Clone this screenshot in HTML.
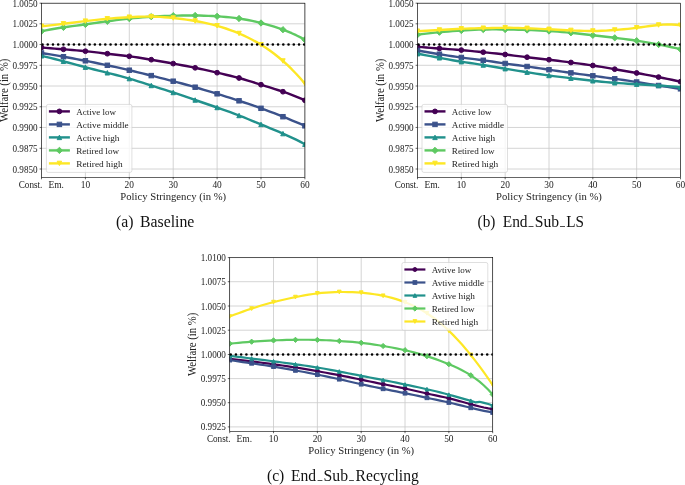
<!DOCTYPE html>
<html lang="en">
<head>
<meta charset="utf-8">
<title>Welfare vs. Policy Stringency</title>
<style>
html,body{margin:0;padding:0;background:#fff;}
body{width:685px;height:485px;overflow:hidden;font-family:"Liberation Serif",serif;}
svg{display:block;will-change:transform;}
text{font-family:"Liberation Serif",serif;}
</style>
</head>
<body>
<svg width="685" height="485" viewBox="0 0 685 485" font-family="Liberation Serif, serif" fill="#222">
<rect width="685" height="485" fill="#fff"/>
<g id="chart-a">
<path d="M41.5 3.2V177.4M85.4 3.2V177.4M129.3 3.2V177.4M173.2 3.2V177.4M217.1 3.2V177.4M261 3.2V177.4M304.9 3.2V177.4M41.5 3.2H304.9M41.5 23.8H304.9M41.5 44.5H304.9M41.5 65.3H304.9M41.5 86H304.9M41.5 106.75H304.9M41.5 127.45H304.9M41.5 148.3H304.9M41.5 169H304.9" stroke="#c9c9c9" stroke-width="0.8" fill="none"/>
<clipPath id="clip-a"><rect x="41.5" y="3.2" width="263.4" height="174.2"/></clipPath>
<g clip-path="url(#clip-a)">
<path d="M41.5 47.5L45.89 47.89L50.28 48.26L54.67 48.62L59.06 48.96L63.45 49.3L67.84 49.64L72.23 50L76.62 50.37L81.01 50.77L85.4 51.2L89.79 51.67L94.18 52.16L98.57 52.67L102.96 53.19L107.35 53.7L111.74 54.2L116.13 54.7L120.52 55.21L124.91 55.74L129.3 56.3L133.69 56.91L138.08 57.56L142.47 58.25L146.86 58.96L151.25 59.7L155.64 60.46L160.03 61.23L164.42 62.01L168.81 62.8L173.2 63.6L177.59 64.4L181.98 65.21L186.37 66.05L190.76 66.91L195.15 67.8L199.54 68.74L203.93 69.7L208.32 70.69L212.71 71.7L217.1 72.7L221.49 73.7L225.88 74.71L230.27 75.75L234.66 76.84L239.05 78L243.44 79.25L247.83 80.56L252.22 81.93L256.61 83.31L261 84.7L265.39 86.07L269.78 87.44L274.17 88.83L278.56 90.24L282.95 91.7L287.34 93.22L291.73 94.83L296.12 96.53L300.51 98.35L304.9 100.3" stroke="#440154" stroke-width="2.4" fill="none" stroke-linejoin="round" stroke-linecap="butt"/>
<circle cx="41.5" cy="47.5" r="2.4" fill="#440154" stroke="#440154" stroke-width="1.0"/>
<circle cx="63.45" cy="49.3" r="2.4" fill="#440154" stroke="#440154" stroke-width="1.0"/>
<circle cx="85.4" cy="51.2" r="2.4" fill="#440154" stroke="#440154" stroke-width="1.0"/>
<circle cx="107.35" cy="53.7" r="2.4" fill="#440154" stroke="#440154" stroke-width="1.0"/>
<circle cx="129.3" cy="56.3" r="2.4" fill="#440154" stroke="#440154" stroke-width="1.0"/>
<circle cx="151.25" cy="59.7" r="2.4" fill="#440154" stroke="#440154" stroke-width="1.0"/>
<circle cx="173.2" cy="63.6" r="2.4" fill="#440154" stroke="#440154" stroke-width="1.0"/>
<circle cx="195.15" cy="67.8" r="2.4" fill="#440154" stroke="#440154" stroke-width="1.0"/>
<circle cx="217.1" cy="72.7" r="2.4" fill="#440154" stroke="#440154" stroke-width="1.0"/>
<circle cx="239.05" cy="78" r="2.4" fill="#440154" stroke="#440154" stroke-width="1.0"/>
<circle cx="261" cy="84.7" r="2.4" fill="#440154" stroke="#440154" stroke-width="1.0"/>
<circle cx="282.95" cy="91.7" r="2.4" fill="#440154" stroke="#440154" stroke-width="1.0"/>
<circle cx="304.9" cy="100.3" r="2.4" fill="#440154" stroke="#440154" stroke-width="1.0"/>
<path d="M41.5 53L45.89 53.71L50.28 54.43L54.67 55.17L59.06 55.93L63.45 56.7L67.84 57.49L72.23 58.29L76.62 59.11L81.01 59.95L85.4 60.8L89.79 61.67L94.18 62.55L98.57 63.46L102.96 64.37L107.35 65.3L111.74 66.24L116.13 67.2L120.52 68.18L124.91 69.18L129.3 70.2L133.69 71.25L138.08 72.32L142.47 73.4L146.86 74.5L151.25 75.6L155.64 76.71L160.03 77.81L164.42 78.93L168.81 80.06L173.2 81.2L177.59 82.36L181.98 83.53L186.37 84.73L190.76 85.95L195.15 87.2L199.54 88.48L203.93 89.78L208.32 91.1L212.71 92.44L217.1 93.8L221.49 95.17L225.88 96.56L230.27 97.96L234.66 99.37L239.05 100.8L243.44 102.25L247.83 103.71L252.22 105.21L256.61 106.74L261 108.3L265.39 109.91L269.78 111.55L274.17 113.24L278.56 114.95L282.95 116.7L287.34 118.48L291.73 120.28L296.12 122.1L300.51 123.94L304.9 125.8" stroke="#3b528b" stroke-width="2.4" fill="none" stroke-linejoin="round" stroke-linecap="butt"/>
<rect x="39.27" y="50.77" width="4.45" height="4.45" fill="#3b528b" stroke="#3b528b" stroke-width="1.0" stroke-linejoin="miter"/>
<rect x="61.23" y="54.48" width="4.45" height="4.45" fill="#3b528b" stroke="#3b528b" stroke-width="1.0" stroke-linejoin="miter"/>
<rect x="83.18" y="58.57" width="4.45" height="4.45" fill="#3b528b" stroke="#3b528b" stroke-width="1.0" stroke-linejoin="miter"/>
<rect x="105.12" y="63.07" width="4.45" height="4.45" fill="#3b528b" stroke="#3b528b" stroke-width="1.0" stroke-linejoin="miter"/>
<rect x="127.08" y="67.98" width="4.45" height="4.45" fill="#3b528b" stroke="#3b528b" stroke-width="1.0" stroke-linejoin="miter"/>
<rect x="149.03" y="73.38" width="4.45" height="4.45" fill="#3b528b" stroke="#3b528b" stroke-width="1.0" stroke-linejoin="miter"/>
<rect x="170.97" y="78.98" width="4.45" height="4.45" fill="#3b528b" stroke="#3b528b" stroke-width="1.0" stroke-linejoin="miter"/>
<rect x="192.93" y="84.98" width="4.45" height="4.45" fill="#3b528b" stroke="#3b528b" stroke-width="1.0" stroke-linejoin="miter"/>
<rect x="214.88" y="91.58" width="4.45" height="4.45" fill="#3b528b" stroke="#3b528b" stroke-width="1.0" stroke-linejoin="miter"/>
<rect x="236.82" y="98.58" width="4.45" height="4.45" fill="#3b528b" stroke="#3b528b" stroke-width="1.0" stroke-linejoin="miter"/>
<rect x="258.77" y="106.08" width="4.45" height="4.45" fill="#3b528b" stroke="#3b528b" stroke-width="1.0" stroke-linejoin="miter"/>
<rect x="280.72" y="114.48" width="4.45" height="4.45" fill="#3b528b" stroke="#3b528b" stroke-width="1.0" stroke-linejoin="miter"/>
<rect x="302.67" y="123.58" width="4.45" height="4.45" fill="#3b528b" stroke="#3b528b" stroke-width="1.0" stroke-linejoin="miter"/>
<path d="M41.5 55.8L45.89 56.82L50.28 57.89L54.67 59L59.06 60.14L63.45 61.3L67.84 62.48L72.23 63.67L76.62 64.85L81.01 66.03L85.4 67.2L89.79 68.35L94.18 69.48L98.57 70.59L102.96 71.7L107.35 72.8L111.74 73.9L116.13 75.02L120.52 76.17L124.91 77.35L129.3 78.6L133.69 79.91L138.08 81.28L142.47 82.67L146.86 84.09L151.25 85.5L155.64 86.89L160.03 88.28L164.42 89.67L168.81 91.07L173.2 92.5L177.59 93.97L181.98 95.46L186.37 96.97L190.76 98.49L195.15 100L199.54 101.5L203.93 102.99L208.32 104.49L212.71 105.99L217.1 107.5L221.49 109.03L225.88 110.6L230.27 112.19L234.66 113.82L239.05 115.5L243.44 117.23L247.83 118.99L252.22 120.78L256.61 122.59L261 124.4L265.39 126.21L269.78 128.02L274.17 129.84L278.56 131.7L282.95 133.6L287.34 135.56L291.73 137.58L296.12 139.69L300.51 141.89L304.9 144.2" stroke="#21918c" stroke-width="2.4" fill="none" stroke-linejoin="round" stroke-linecap="butt"/>
<path d="M41.5 53.57L43.73 58.02L39.27 58.02Z" fill="#21918c" stroke="#21918c" stroke-width="1.0"/>
<path d="M63.45 59.07L65.67 63.52L61.23 63.52Z" fill="#21918c" stroke="#21918c" stroke-width="1.0"/>
<path d="M85.4 64.98L87.62 69.42L83.18 69.42Z" fill="#21918c" stroke="#21918c" stroke-width="1.0"/>
<path d="M107.35 70.58L109.57 75.02L105.12 75.02Z" fill="#21918c" stroke="#21918c" stroke-width="1.0"/>
<path d="M129.3 76.38L131.53 80.82L127.08 80.82Z" fill="#21918c" stroke="#21918c" stroke-width="1.0"/>
<path d="M151.25 83.28L153.47 87.72L149.03 87.72Z" fill="#21918c" stroke="#21918c" stroke-width="1.0"/>
<path d="M173.2 90.28L175.42 94.72L170.97 94.72Z" fill="#21918c" stroke="#21918c" stroke-width="1.0"/>
<path d="M195.15 97.78L197.38 102.22L192.93 102.22Z" fill="#21918c" stroke="#21918c" stroke-width="1.0"/>
<path d="M217.1 105.28L219.32 109.72L214.88 109.72Z" fill="#21918c" stroke="#21918c" stroke-width="1.0"/>
<path d="M239.05 113.28L241.27 117.72L236.82 117.72Z" fill="#21918c" stroke="#21918c" stroke-width="1.0"/>
<path d="M261 122.18L263.23 126.62L258.77 126.62Z" fill="#21918c" stroke="#21918c" stroke-width="1.0"/>
<path d="M282.95 131.38L285.17 135.82L280.72 135.82Z" fill="#21918c" stroke="#21918c" stroke-width="1.0"/>
<path d="M304.9 141.97L307.12 146.42L302.67 146.42Z" fill="#21918c" stroke="#21918c" stroke-width="1.0"/>
<path d="M41.5 31.2L45.89 30.31L50.28 29.5L54.67 28.75L59.06 28.06L63.45 27.4L67.84 26.78L72.23 26.18L76.62 25.59L81.01 25L85.4 24.4L89.79 23.79L94.18 23.16L98.57 22.53L102.96 21.91L107.35 21.3L111.74 20.71L116.13 20.14L120.52 19.6L124.91 19.08L129.3 18.6L133.69 18.15L138.08 17.73L142.47 17.35L146.86 17.01L151.25 16.7L155.64 16.43L160.03 16.2L164.42 16L168.81 15.84L173.2 15.7L177.59 15.59L181.98 15.52L186.37 15.47L190.76 15.47L195.15 15.5L199.54 15.57L203.93 15.69L208.32 15.85L212.71 16.05L217.1 16.3L221.49 16.6L225.88 16.95L230.27 17.38L234.66 17.89L239.05 18.5L243.44 19.21L247.83 20.03L252.22 20.93L256.61 21.93L261 23L265.39 24.15L269.78 25.38L274.17 26.71L278.56 28.14L282.95 29.7L287.34 31.39L291.73 33.22L296.12 35.21L300.51 37.36L304.9 39.7" stroke="#5ec962" stroke-width="2.4" fill="none" stroke-linejoin="round" stroke-linecap="butt"/>
<path d="M41.5 28.05L44.65 31.2L41.5 34.35L38.35 31.2Z" fill="#5ec962" stroke="#5ec962" stroke-width="1.0"/>
<path d="M63.45 24.25L66.6 27.4L63.45 30.55L60.3 27.4Z" fill="#5ec962" stroke="#5ec962" stroke-width="1.0"/>
<path d="M85.4 21.25L88.55 24.4L85.4 27.55L82.25 24.4Z" fill="#5ec962" stroke="#5ec962" stroke-width="1.0"/>
<path d="M107.35 18.15L110.5 21.3L107.35 24.45L104.2 21.3Z" fill="#5ec962" stroke="#5ec962" stroke-width="1.0"/>
<path d="M129.3 15.45L132.45 18.6L129.3 21.75L126.15 18.6Z" fill="#5ec962" stroke="#5ec962" stroke-width="1.0"/>
<path d="M151.25 13.55L154.4 16.7L151.25 19.85L148.1 16.7Z" fill="#5ec962" stroke="#5ec962" stroke-width="1.0"/>
<path d="M173.2 12.55L176.35 15.7L173.2 18.85L170.05 15.7Z" fill="#5ec962" stroke="#5ec962" stroke-width="1.0"/>
<path d="M195.15 12.35L198.3 15.5L195.15 18.65L192 15.5Z" fill="#5ec962" stroke="#5ec962" stroke-width="1.0"/>
<path d="M217.1 13.15L220.25 16.3L217.1 19.45L213.95 16.3Z" fill="#5ec962" stroke="#5ec962" stroke-width="1.0"/>
<path d="M239.05 15.35L242.2 18.5L239.05 21.65L235.9 18.5Z" fill="#5ec962" stroke="#5ec962" stroke-width="1.0"/>
<path d="M261 19.85L264.15 23L261 26.15L257.85 23Z" fill="#5ec962" stroke="#5ec962" stroke-width="1.0"/>
<path d="M282.95 26.55L286.1 29.7L282.95 32.85L279.8 29.7Z" fill="#5ec962" stroke="#5ec962" stroke-width="1.0"/>
<path d="M304.9 36.55L308.05 39.7L304.9 42.85L301.75 39.7Z" fill="#5ec962" stroke="#5ec962" stroke-width="1.0"/>
<path d="M41.5 26.3L45.89 25.85L50.28 25.37L54.67 24.86L59.06 24.34L63.45 23.8L67.84 23.25L72.23 22.71L76.62 22.16L81.01 21.62L85.4 21.1L89.79 20.59L94.18 20.11L98.57 19.65L102.96 19.21L107.35 18.8L111.74 18.42L116.13 18.07L120.52 17.75L124.91 17.46L129.3 17.2L133.69 16.97L138.08 16.78L142.47 16.64L146.86 16.58L151.25 16.6L155.64 16.72L160.03 16.92L164.42 17.21L168.81 17.57L173.2 18L177.59 18.48L181.98 19.02L186.37 19.62L190.76 20.28L195.15 21L199.54 21.78L203.93 22.64L208.32 23.59L212.71 24.64L217.1 25.8L221.49 27.09L225.88 28.5L230.27 30.04L234.66 31.71L239.05 33.5L243.44 35.42L247.83 37.48L252.22 39.71L256.61 42.11L261 44.7L265.39 47.5L269.78 50.53L274.17 53.78L278.56 57.27L282.95 61L287.34 64.98L291.73 69.23L296.12 73.74L300.51 78.53L304.9 83.6" stroke="#fde725" stroke-width="2.4" fill="none" stroke-linejoin="round" stroke-linecap="butt"/>
<path d="M41.5 28.53L43.73 24.07L39.27 24.07Z" fill="#fde725" stroke="#fde725" stroke-width="1.0"/>
<path d="M63.45 26.03L65.67 21.57L61.23 21.57Z" fill="#fde725" stroke="#fde725" stroke-width="1.0"/>
<path d="M85.4 23.33L87.62 18.88L83.18 18.88Z" fill="#fde725" stroke="#fde725" stroke-width="1.0"/>
<path d="M107.35 21.03L109.57 16.57L105.12 16.57Z" fill="#fde725" stroke="#fde725" stroke-width="1.0"/>
<path d="M129.3 19.43L131.53 14.97L127.08 14.97Z" fill="#fde725" stroke="#fde725" stroke-width="1.0"/>
<path d="M151.25 18.83L153.47 14.38L149.03 14.38Z" fill="#fde725" stroke="#fde725" stroke-width="1.0"/>
<path d="M173.2 20.23L175.42 15.78L170.97 15.78Z" fill="#fde725" stroke="#fde725" stroke-width="1.0"/>
<path d="M195.15 23.23L197.38 18.77L192.93 18.77Z" fill="#fde725" stroke="#fde725" stroke-width="1.0"/>
<path d="M217.1 28.03L219.32 23.57L214.88 23.57Z" fill="#fde725" stroke="#fde725" stroke-width="1.0"/>
<path d="M239.05 35.73L241.27 31.27L236.82 31.27Z" fill="#fde725" stroke="#fde725" stroke-width="1.0"/>
<path d="M261 46.93L263.23 42.48L258.77 42.48Z" fill="#fde725" stroke="#fde725" stroke-width="1.0"/>
<path d="M282.95 63.23L285.17 58.77L280.72 58.77Z" fill="#fde725" stroke="#fde725" stroke-width="1.0"/>
<path d="M304.9 85.82L307.12 81.38L302.67 81.38Z" fill="#fde725" stroke="#fde725" stroke-width="1.0"/>
<path d="M42.5 44.5H306.9" stroke="#000" stroke-width="2.6" stroke-linecap="round" stroke-dasharray="0.01 5.225" fill="none"/>
</g>
<path d="M41.5 177.4v1.9M85.4 177.4v1.9M129.3 177.4v1.9M173.2 177.4v1.9M217.1 177.4v1.9M261 177.4v1.9M304.9 177.4v1.9M41.5 3.2h-1.9M41.5 23.8h-1.9M41.5 44.5h-1.9M41.5 65.3h-1.9M41.5 86h-1.9M41.5 106.75h-1.9M41.5 127.45h-1.9M41.5 148.3h-1.9M41.5 169h-1.9" stroke="#000" stroke-width="0.6" fill="none"/>
<rect x="41.5" y="3.2" width="263.4" height="174.2" fill="none" stroke="#000" stroke-width="0.6"/>
<text x="37.7" y="6.7" text-anchor="end" font-size="9.5" textLength="25.2" lengthAdjust="spacingAndGlyphs">1.0050</text>
<text x="37.7" y="27.3" text-anchor="end" font-size="9.5" textLength="25.2" lengthAdjust="spacingAndGlyphs">1.0025</text>
<text x="37.7" y="48" text-anchor="end" font-size="9.5" textLength="25.2" lengthAdjust="spacingAndGlyphs">1.0000</text>
<text x="37.7" y="68.8" text-anchor="end" font-size="9.5" textLength="25.2" lengthAdjust="spacingAndGlyphs">0.9975</text>
<text x="37.7" y="89.5" text-anchor="end" font-size="9.5" textLength="25.2" lengthAdjust="spacingAndGlyphs">0.9950</text>
<text x="37.7" y="110.25" text-anchor="end" font-size="9.5" textLength="25.2" lengthAdjust="spacingAndGlyphs">0.9925</text>
<text x="37.7" y="130.95" text-anchor="end" font-size="9.5" textLength="25.2" lengthAdjust="spacingAndGlyphs">0.9900</text>
<text x="37.7" y="151.8" text-anchor="end" font-size="9.5" textLength="25.2" lengthAdjust="spacingAndGlyphs">0.9875</text>
<text x="37.7" y="172.5" text-anchor="end" font-size="9.5" textLength="25.2" lengthAdjust="spacingAndGlyphs">0.9850</text>
<text x="18.7" y="187.7" font-size="9.6" textLength="23.7" lengthAdjust="spacingAndGlyphs">Const.</text>
<text x="48.4" y="187.7" font-size="9.6" textLength="15.5" lengthAdjust="spacingAndGlyphs">Em.</text>
<text x="85.4" y="187.7" text-anchor="middle" font-size="9.4">10</text>
<text x="129.3" y="187.7" text-anchor="middle" font-size="9.4">20</text>
<text x="173.2" y="187.7" text-anchor="middle" font-size="9.4">30</text>
<text x="217.1" y="187.7" text-anchor="middle" font-size="9.4">40</text>
<text x="261" y="187.7" text-anchor="middle" font-size="9.4">50</text>
<text x="304.9" y="187.7" text-anchor="middle" font-size="9.4">60</text>
<text x="173.2" y="199.7" text-anchor="middle" font-size="11.1" textLength="105.8" lengthAdjust="spacingAndGlyphs">Policy Stringency (in %)</text>
<text transform="translate(8.2 90.3) rotate(-90)" text-anchor="middle" font-size="11.8" textLength="63.3" lengthAdjust="spacingAndGlyphs">Welfare (in %)</text>
<rect x="46.4" y="104.4" width="85.5" height="68" rx="1.8" ry="1.8" fill="#fff" fill-opacity="0.8" stroke="#ccc" stroke-opacity="0.8" stroke-width="0.8"/>
<path d="M48.9 111.4H69.9" stroke="#440154" stroke-width="2.4" fill="none"/>
<circle cx="59.4" cy="111.4" r="2.4" fill="#440154" stroke="#440154" stroke-width="1.0"/>
<text x="76.2" y="115" font-size="9.1" textLength="39.7" lengthAdjust="spacingAndGlyphs">Active low</text>
<path d="M48.9 124.4H69.9" stroke="#3b528b" stroke-width="2.4" fill="none"/>
<rect x="57.18" y="122.18" width="4.45" height="4.45" fill="#3b528b" stroke="#3b528b" stroke-width="1.0" stroke-linejoin="miter"/>
<text x="76.2" y="128" font-size="9.1" textLength="52.4" lengthAdjust="spacingAndGlyphs">Active middle</text>
<path d="M48.9 137.4H69.9" stroke="#21918c" stroke-width="2.4" fill="none"/>
<path d="M59.4 135.18L61.63 139.62L57.18 139.62Z" fill="#21918c" stroke="#21918c" stroke-width="1.0"/>
<text x="76.2" y="141" font-size="9.1" textLength="43.3" lengthAdjust="spacingAndGlyphs">Active high</text>
<path d="M48.9 150.4H69.9" stroke="#5ec962" stroke-width="2.4" fill="none"/>
<path d="M59.4 147.25L62.55 150.4L59.4 153.55L56.25 150.4Z" fill="#5ec962" stroke="#5ec962" stroke-width="1.0"/>
<text x="76.2" y="154" font-size="9.1" textLength="42.9" lengthAdjust="spacingAndGlyphs">Retired low</text>
<path d="M48.9 163.4H69.9" stroke="#fde725" stroke-width="2.4" fill="none"/>
<path d="M59.4 165.62L61.63 161.18L57.18 161.18Z" fill="#fde725" stroke="#fde725" stroke-width="1.0"/>
<text x="76.2" y="167" font-size="9.1" textLength="46.5" lengthAdjust="spacingAndGlyphs">Retired high</text>
<text x="116.1" y="226.7" font-size="16" fill="#111" textLength="17.5" lengthAdjust="spacingAndGlyphs">(a)</text>
<text x="140" y="226.7" font-size="16" fill="#111" textLength="54.3" lengthAdjust="spacingAndGlyphs">Baseline</text>
</g>
<g id="chart-b">
<path d="M417.5 3.2V177.4M461.33 3.2V177.4M505.17 3.2V177.4M549 3.2V177.4M592.83 3.2V177.4M636.67 3.2V177.4M680.5 3.2V177.4M417.5 3.2H680.5M417.5 23.8H680.5M417.5 44.5H680.5M417.5 65.3H680.5M417.5 86H680.5M417.5 106.75H680.5M417.5 127.45H680.5M417.5 148.3H680.5M417.5 169H680.5" stroke="#c9c9c9" stroke-width="0.8" fill="none"/>
<clipPath id="clip-b"><rect x="417.5" y="3.2" width="263" height="174.2"/></clipPath>
<g clip-path="url(#clip-b)">
<path d="M417.5 46.7L421.88 47.13L426.27 47.51L430.65 47.86L435.03 48.19L439.42 48.5L443.8 48.8L448.18 49.11L452.57 49.42L456.95 49.75L461.33 50.1L465.72 50.48L470.1 50.89L474.48 51.32L478.87 51.76L483.25 52.2L487.63 52.64L492.02 53.08L496.4 53.54L500.78 54.01L505.17 54.5L509.55 55.02L513.93 55.57L518.32 56.12L522.7 56.67L527.08 57.2L531.47 57.71L535.85 58.21L540.23 58.7L544.62 59.19L549 59.7L553.38 60.23L557.77 60.79L562.15 61.35L566.53 61.93L570.92 62.5L575.3 63.07L579.68 63.65L584.07 64.24L588.45 64.85L592.83 65.5L597.22 66.19L601.6 66.92L605.98 67.67L610.37 68.43L614.75 69.2L619.13 69.96L623.52 70.71L627.9 71.47L632.28 72.23L636.67 73L641.05 73.79L645.43 74.59L649.82 75.41L654.2 76.24L658.58 77.1L662.97 77.98L667.35 78.87L671.73 79.79L676.12 80.73L680.5 81.7" stroke="#440154" stroke-width="2.4" fill="none" stroke-linejoin="round" stroke-linecap="butt"/>
<circle cx="417.5" cy="46.7" r="2.4" fill="#440154" stroke="#440154" stroke-width="1.0"/>
<circle cx="439.42" cy="48.5" r="2.4" fill="#440154" stroke="#440154" stroke-width="1.0"/>
<circle cx="461.33" cy="50.1" r="2.4" fill="#440154" stroke="#440154" stroke-width="1.0"/>
<circle cx="483.25" cy="52.2" r="2.4" fill="#440154" stroke="#440154" stroke-width="1.0"/>
<circle cx="505.17" cy="54.5" r="2.4" fill="#440154" stroke="#440154" stroke-width="1.0"/>
<circle cx="527.08" cy="57.2" r="2.4" fill="#440154" stroke="#440154" stroke-width="1.0"/>
<circle cx="549" cy="59.7" r="2.4" fill="#440154" stroke="#440154" stroke-width="1.0"/>
<circle cx="570.92" cy="62.5" r="2.4" fill="#440154" stroke="#440154" stroke-width="1.0"/>
<circle cx="592.83" cy="65.5" r="2.4" fill="#440154" stroke="#440154" stroke-width="1.0"/>
<circle cx="614.75" cy="69.2" r="2.4" fill="#440154" stroke="#440154" stroke-width="1.0"/>
<circle cx="636.67" cy="73" r="2.4" fill="#440154" stroke="#440154" stroke-width="1.0"/>
<circle cx="658.58" cy="77.1" r="2.4" fill="#440154" stroke="#440154" stroke-width="1.0"/>
<circle cx="680.5" cy="81.7" r="2.4" fill="#440154" stroke="#440154" stroke-width="1.0"/>
<path d="M417.5 50.5L421.88 51.25L426.27 52L430.65 52.74L435.03 53.48L439.42 54.2L443.8 54.91L448.18 55.6L452.57 56.26L456.95 56.9L461.33 57.5L465.72 58.07L470.1 58.62L474.48 59.17L478.87 59.72L483.25 60.3L487.63 60.91L492.02 61.55L496.4 62.21L500.78 62.86L505.17 63.5L509.55 64.12L513.93 64.72L518.32 65.31L522.7 65.9L527.08 66.5L531.47 67.12L535.85 67.75L540.23 68.39L544.62 69.04L549 69.7L553.38 70.36L557.77 71.01L562.15 71.65L566.53 72.28L570.92 72.9L575.3 73.5L579.68 74.08L584.07 74.65L588.45 75.22L592.83 75.8L597.22 76.38L601.6 76.98L605.98 77.58L610.37 78.19L614.75 78.8L619.13 79.42L623.52 80.05L627.9 80.68L632.28 81.33L636.67 82L641.05 82.68L645.43 83.38L649.82 84.09L654.2 84.79L658.58 85.5L662.97 86.2L667.35 86.88L671.73 87.55L676.12 88.19L680.5 88.8" stroke="#3b528b" stroke-width="2.4" fill="none" stroke-linejoin="round" stroke-linecap="butt"/>
<rect x="415.27" y="48.27" width="4.45" height="4.45" fill="#3b528b" stroke="#3b528b" stroke-width="1.0" stroke-linejoin="miter"/>
<rect x="437.19" y="51.98" width="4.45" height="4.45" fill="#3b528b" stroke="#3b528b" stroke-width="1.0" stroke-linejoin="miter"/>
<rect x="459.11" y="55.27" width="4.45" height="4.45" fill="#3b528b" stroke="#3b528b" stroke-width="1.0" stroke-linejoin="miter"/>
<rect x="481.02" y="58.07" width="4.45" height="4.45" fill="#3b528b" stroke="#3b528b" stroke-width="1.0" stroke-linejoin="miter"/>
<rect x="502.94" y="61.27" width="4.45" height="4.45" fill="#3b528b" stroke="#3b528b" stroke-width="1.0" stroke-linejoin="miter"/>
<rect x="524.86" y="64.28" width="4.45" height="4.45" fill="#3b528b" stroke="#3b528b" stroke-width="1.0" stroke-linejoin="miter"/>
<rect x="546.77" y="67.48" width="4.45" height="4.45" fill="#3b528b" stroke="#3b528b" stroke-width="1.0" stroke-linejoin="miter"/>
<rect x="568.69" y="70.68" width="4.45" height="4.45" fill="#3b528b" stroke="#3b528b" stroke-width="1.0" stroke-linejoin="miter"/>
<rect x="590.61" y="73.58" width="4.45" height="4.45" fill="#3b528b" stroke="#3b528b" stroke-width="1.0" stroke-linejoin="miter"/>
<rect x="612.52" y="76.58" width="4.45" height="4.45" fill="#3b528b" stroke="#3b528b" stroke-width="1.0" stroke-linejoin="miter"/>
<rect x="634.44" y="79.78" width="4.45" height="4.45" fill="#3b528b" stroke="#3b528b" stroke-width="1.0" stroke-linejoin="miter"/>
<rect x="656.36" y="83.28" width="4.45" height="4.45" fill="#3b528b" stroke="#3b528b" stroke-width="1.0" stroke-linejoin="miter"/>
<rect x="678.27" y="86.58" width="4.45" height="4.45" fill="#3b528b" stroke="#3b528b" stroke-width="1.0" stroke-linejoin="miter"/>
<path d="M417.5 53.7L421.88 54.49L426.27 55.31L430.65 56.13L435.03 56.97L439.42 57.8L443.8 58.62L448.18 59.43L452.57 60.22L456.95 60.98L461.33 61.7L465.72 62.38L470.1 63.03L474.48 63.68L478.87 64.33L483.25 65L487.63 65.71L492.02 66.45L496.4 67.2L500.78 67.96L505.17 68.7L509.55 69.42L513.93 70.13L518.32 70.83L522.7 71.51L527.08 72.2L531.47 72.89L535.85 73.57L540.23 74.24L544.62 74.88L549 75.5L553.38 76.08L557.77 76.63L562.15 77.16L566.53 77.68L570.92 78.2L575.3 78.73L579.68 79.27L584.07 79.79L588.45 80.31L592.83 80.8L597.22 81.26L601.6 81.69L605.98 82.09L610.37 82.46L614.75 82.8L619.13 83.12L623.52 83.41L627.9 83.68L632.28 83.95L636.67 84.2L641.05 84.45L645.43 84.7L649.82 84.96L654.2 85.22L658.58 85.5L662.97 85.79L667.35 86.11L671.73 86.44L676.12 86.8L680.5 87.2" stroke="#21918c" stroke-width="2.4" fill="none" stroke-linejoin="round" stroke-linecap="butt"/>
<path d="M417.5 51.48L419.73 55.93L415.27 55.93Z" fill="#21918c" stroke="#21918c" stroke-width="1.0"/>
<path d="M439.42 55.57L441.64 60.02L437.19 60.02Z" fill="#21918c" stroke="#21918c" stroke-width="1.0"/>
<path d="M461.33 59.48L463.56 63.93L459.11 63.93Z" fill="#21918c" stroke="#21918c" stroke-width="1.0"/>
<path d="M483.25 62.77L485.48 67.22L481.02 67.22Z" fill="#21918c" stroke="#21918c" stroke-width="1.0"/>
<path d="M505.17 66.48L507.39 70.92L502.94 70.92Z" fill="#21918c" stroke="#21918c" stroke-width="1.0"/>
<path d="M527.08 69.98L529.31 74.42L524.86 74.42Z" fill="#21918c" stroke="#21918c" stroke-width="1.0"/>
<path d="M549 73.28L551.23 77.72L546.77 77.72Z" fill="#21918c" stroke="#21918c" stroke-width="1.0"/>
<path d="M570.92 75.98L573.14 80.42L568.69 80.42Z" fill="#21918c" stroke="#21918c" stroke-width="1.0"/>
<path d="M592.83 78.58L595.06 83.02L590.61 83.02Z" fill="#21918c" stroke="#21918c" stroke-width="1.0"/>
<path d="M614.75 80.58L616.98 85.02L612.52 85.02Z" fill="#21918c" stroke="#21918c" stroke-width="1.0"/>
<path d="M636.67 81.98L638.89 86.42L634.44 86.42Z" fill="#21918c" stroke="#21918c" stroke-width="1.0"/>
<path d="M658.58 83.28L660.81 87.72L656.36 87.72Z" fill="#21918c" stroke="#21918c" stroke-width="1.0"/>
<path d="M680.5 84.98L682.73 89.42L678.27 89.42Z" fill="#21918c" stroke="#21918c" stroke-width="1.0"/>
<path d="M417.5 34.7L421.88 34.12L426.27 33.59L430.65 33.09L435.03 32.63L439.42 32.2L443.8 31.8L448.18 31.44L452.57 31.1L456.95 30.79L461.33 30.5L465.72 30.23L470.1 29.99L474.48 29.79L478.87 29.62L483.25 29.5L487.63 29.43L492.02 29.4L496.4 29.41L500.78 29.44L505.17 29.5L509.55 29.57L513.93 29.65L518.32 29.75L522.7 29.87L527.08 30L531.47 30.15L535.85 30.32L540.23 30.52L544.62 30.74L549 31L553.38 31.29L557.77 31.61L562.15 31.97L566.53 32.37L570.92 32.8L575.3 33.27L579.68 33.76L584.07 34.27L588.45 34.79L592.83 35.3L597.22 35.8L601.6 36.3L605.98 36.79L610.37 37.29L614.75 37.8L619.13 38.33L623.52 38.88L627.9 39.45L632.28 40.06L636.67 40.7L641.05 41.38L645.43 42.1L649.82 42.87L654.2 43.66L658.58 44.5L662.97 45.37L667.35 46.28L671.73 47.22L676.12 48.19L680.5 49.2" stroke="#5ec962" stroke-width="2.4" fill="none" stroke-linejoin="round" stroke-linecap="butt"/>
<path d="M417.5 31.55L420.65 34.7L417.5 37.85L414.35 34.7Z" fill="#5ec962" stroke="#5ec962" stroke-width="1.0"/>
<path d="M439.42 29.05L442.56 32.2L439.42 35.35L436.27 32.2Z" fill="#5ec962" stroke="#5ec962" stroke-width="1.0"/>
<path d="M461.33 27.35L464.48 30.5L461.33 33.65L458.19 30.5Z" fill="#5ec962" stroke="#5ec962" stroke-width="1.0"/>
<path d="M483.25 26.35L486.4 29.5L483.25 32.65L480.1 29.5Z" fill="#5ec962" stroke="#5ec962" stroke-width="1.0"/>
<path d="M505.17 26.35L508.31 29.5L505.17 32.65L502.02 29.5Z" fill="#5ec962" stroke="#5ec962" stroke-width="1.0"/>
<path d="M527.08 26.85L530.23 30L527.08 33.15L523.94 30Z" fill="#5ec962" stroke="#5ec962" stroke-width="1.0"/>
<path d="M549 27.85L552.15 31L549 34.15L545.85 31Z" fill="#5ec962" stroke="#5ec962" stroke-width="1.0"/>
<path d="M570.92 29.65L574.06 32.8L570.92 35.95L567.77 32.8Z" fill="#5ec962" stroke="#5ec962" stroke-width="1.0"/>
<path d="M592.83 32.15L595.98 35.3L592.83 38.45L589.69 35.3Z" fill="#5ec962" stroke="#5ec962" stroke-width="1.0"/>
<path d="M614.75 34.65L617.9 37.8L614.75 40.95L611.6 37.8Z" fill="#5ec962" stroke="#5ec962" stroke-width="1.0"/>
<path d="M636.67 37.55L639.81 40.7L636.67 43.85L633.52 40.7Z" fill="#5ec962" stroke="#5ec962" stroke-width="1.0"/>
<path d="M658.58 41.35L661.73 44.5L658.58 47.65L655.44 44.5Z" fill="#5ec962" stroke="#5ec962" stroke-width="1.0"/>
<path d="M680.5 46.05L683.65 49.2L680.5 52.35L677.35 49.2Z" fill="#5ec962" stroke="#5ec962" stroke-width="1.0"/>
<path d="M417.5 31.2L421.88 31.01L426.27 30.78L430.65 30.53L435.03 30.27L439.42 30L443.8 29.73L448.18 29.47L452.57 29.22L456.95 28.99L461.33 28.8L465.72 28.64L470.1 28.51L474.48 28.4L478.87 28.3L483.25 28.2L487.63 28.09L492.02 27.98L496.4 27.89L500.78 27.83L505.17 27.8L509.55 27.82L513.93 27.89L518.32 28L522.7 28.14L527.08 28.3L531.47 28.48L535.85 28.67L540.23 28.87L544.62 29.08L549 29.3L553.38 29.52L557.77 29.75L562.15 29.97L566.53 30.19L570.92 30.4L575.3 30.6L579.68 30.77L584.07 30.91L588.45 30.99L592.83 31L597.22 30.93L601.6 30.79L605.98 30.58L610.37 30.31L614.75 30L619.13 29.65L623.52 29.26L627.9 28.82L632.28 28.34L636.67 27.8L641.05 27.21L645.43 26.6L649.82 26L654.2 25.46L658.58 25L662.97 24.67L667.35 24.49L671.73 24.52L676.12 24.77L680.5 25.3" stroke="#fde725" stroke-width="2.4" fill="none" stroke-linejoin="round" stroke-linecap="butt"/>
<path d="M417.5 33.42L419.73 28.97L415.27 28.97Z" fill="#fde725" stroke="#fde725" stroke-width="1.0"/>
<path d="M439.42 32.23L441.64 27.77L437.19 27.77Z" fill="#fde725" stroke="#fde725" stroke-width="1.0"/>
<path d="M461.33 31.03L463.56 26.57L459.11 26.57Z" fill="#fde725" stroke="#fde725" stroke-width="1.0"/>
<path d="M483.25 30.43L485.48 25.97L481.02 25.97Z" fill="#fde725" stroke="#fde725" stroke-width="1.0"/>
<path d="M505.17 30.03L507.39 25.57L502.94 25.57Z" fill="#fde725" stroke="#fde725" stroke-width="1.0"/>
<path d="M527.08 30.53L529.31 26.07L524.86 26.07Z" fill="#fde725" stroke="#fde725" stroke-width="1.0"/>
<path d="M549 31.53L551.23 27.07L546.77 27.07Z" fill="#fde725" stroke="#fde725" stroke-width="1.0"/>
<path d="M570.92 32.62L573.14 28.17L568.69 28.17Z" fill="#fde725" stroke="#fde725" stroke-width="1.0"/>
<path d="M592.83 33.23L595.06 28.77L590.61 28.77Z" fill="#fde725" stroke="#fde725" stroke-width="1.0"/>
<path d="M614.75 32.23L616.98 27.77L612.52 27.77Z" fill="#fde725" stroke="#fde725" stroke-width="1.0"/>
<path d="M636.67 30.03L638.89 25.57L634.44 25.57Z" fill="#fde725" stroke="#fde725" stroke-width="1.0"/>
<path d="M658.58 27.23L660.81 22.77L656.36 22.77Z" fill="#fde725" stroke="#fde725" stroke-width="1.0"/>
<path d="M680.5 27.53L682.73 23.07L678.27 23.07Z" fill="#fde725" stroke="#fde725" stroke-width="1.0"/>
<path d="M418.5 44.5H682.5" stroke="#000" stroke-width="2.6" stroke-linecap="round" stroke-dasharray="0.01 5.225" fill="none"/>
</g>
<path d="M417.5 177.4v1.9M461.33 177.4v1.9M505.17 177.4v1.9M549 177.4v1.9M592.83 177.4v1.9M636.67 177.4v1.9M680.5 177.4v1.9M417.5 3.2h-1.9M417.5 23.8h-1.9M417.5 44.5h-1.9M417.5 65.3h-1.9M417.5 86h-1.9M417.5 106.75h-1.9M417.5 127.45h-1.9M417.5 148.3h-1.9M417.5 169h-1.9" stroke="#000" stroke-width="0.6" fill="none"/>
<rect x="417.5" y="3.2" width="263" height="174.2" fill="none" stroke="#000" stroke-width="0.6"/>
<text x="413.7" y="6.7" text-anchor="end" font-size="9.5" textLength="25.2" lengthAdjust="spacingAndGlyphs">1.0050</text>
<text x="413.7" y="27.3" text-anchor="end" font-size="9.5" textLength="25.2" lengthAdjust="spacingAndGlyphs">1.0025</text>
<text x="413.7" y="48" text-anchor="end" font-size="9.5" textLength="25.2" lengthAdjust="spacingAndGlyphs">1.0000</text>
<text x="413.7" y="68.8" text-anchor="end" font-size="9.5" textLength="25.2" lengthAdjust="spacingAndGlyphs">0.9975</text>
<text x="413.7" y="89.5" text-anchor="end" font-size="9.5" textLength="25.2" lengthAdjust="spacingAndGlyphs">0.9950</text>
<text x="413.7" y="110.25" text-anchor="end" font-size="9.5" textLength="25.2" lengthAdjust="spacingAndGlyphs">0.9925</text>
<text x="413.7" y="130.95" text-anchor="end" font-size="9.5" textLength="25.2" lengthAdjust="spacingAndGlyphs">0.9900</text>
<text x="413.7" y="151.8" text-anchor="end" font-size="9.5" textLength="25.2" lengthAdjust="spacingAndGlyphs">0.9875</text>
<text x="413.7" y="172.5" text-anchor="end" font-size="9.5" textLength="25.2" lengthAdjust="spacingAndGlyphs">0.9850</text>
<text x="394.7" y="187.7" font-size="9.6" textLength="23.7" lengthAdjust="spacingAndGlyphs">Const.</text>
<text x="424.4" y="187.7" font-size="9.6" textLength="15.5" lengthAdjust="spacingAndGlyphs">Em.</text>
<text x="461.33" y="187.7" text-anchor="middle" font-size="9.4">10</text>
<text x="505.17" y="187.7" text-anchor="middle" font-size="9.4">20</text>
<text x="549" y="187.7" text-anchor="middle" font-size="9.4">30</text>
<text x="592.83" y="187.7" text-anchor="middle" font-size="9.4">40</text>
<text x="636.67" y="187.7" text-anchor="middle" font-size="9.4">50</text>
<text x="680.5" y="187.7" text-anchor="middle" font-size="9.4">60</text>
<text x="549" y="199.7" text-anchor="middle" font-size="11.1" textLength="105.8" lengthAdjust="spacingAndGlyphs">Policy Stringency (in %)</text>
<text transform="translate(384.2 90.3) rotate(-90)" text-anchor="middle" font-size="11.8" textLength="63.3" lengthAdjust="spacingAndGlyphs">Welfare (in %)</text>
<rect x="422" y="104.4" width="85.5" height="68" rx="1.8" ry="1.8" fill="#fff" fill-opacity="0.8" stroke="#ccc" stroke-opacity="0.8" stroke-width="0.8"/>
<path d="M424.5 111.4H445.5" stroke="#440154" stroke-width="2.4" fill="none"/>
<circle cx="435" cy="111.4" r="2.4" fill="#440154" stroke="#440154" stroke-width="1.0"/>
<text x="451.8" y="115" font-size="9.1" textLength="39.7" lengthAdjust="spacingAndGlyphs">Active low</text>
<path d="M424.5 124.4H445.5" stroke="#3b528b" stroke-width="2.4" fill="none"/>
<rect x="432.77" y="122.18" width="4.45" height="4.45" fill="#3b528b" stroke="#3b528b" stroke-width="1.0" stroke-linejoin="miter"/>
<text x="451.8" y="128" font-size="9.1" textLength="52.4" lengthAdjust="spacingAndGlyphs">Active middle</text>
<path d="M424.5 137.4H445.5" stroke="#21918c" stroke-width="2.4" fill="none"/>
<path d="M435 135.18L437.23 139.62L432.77 139.62Z" fill="#21918c" stroke="#21918c" stroke-width="1.0"/>
<text x="451.8" y="141" font-size="9.1" textLength="43.3" lengthAdjust="spacingAndGlyphs">Active high</text>
<path d="M424.5 150.4H445.5" stroke="#5ec962" stroke-width="2.4" fill="none"/>
<path d="M435 147.25L438.15 150.4L435 153.55L431.85 150.4Z" fill="#5ec962" stroke="#5ec962" stroke-width="1.0"/>
<text x="451.8" y="154" font-size="9.1" textLength="42.9" lengthAdjust="spacingAndGlyphs">Retired low</text>
<path d="M424.5 163.4H445.5" stroke="#fde725" stroke-width="2.4" fill="none"/>
<path d="M435 165.62L437.23 161.18L432.77 161.18Z" fill="#fde725" stroke="#fde725" stroke-width="1.0"/>
<text x="451.8" y="167" font-size="9.1" textLength="46.5" lengthAdjust="spacingAndGlyphs">Retired high</text>
<text x="477.6" y="226.7" font-size="16" fill="#111" textLength="17.8" lengthAdjust="spacingAndGlyphs">(b)</text>
<text x="502.7" y="226.7" font-size="16" fill="#111" textLength="24.9" lengthAdjust="spacingAndGlyphs">End</text>
<text x="534.8" y="226.7" font-size="16" fill="#111" textLength="24.3" lengthAdjust="spacingAndGlyphs">Sub</text>
<text x="566.2" y="226.7" font-size="16" fill="#111" textLength="17.7" lengthAdjust="spacingAndGlyphs">LS</text>
<rect x="528.5" y="226" width="5" height="0.75" fill="#111"/>
<rect x="560" y="226" width="5" height="0.75" fill="#111"/>
</g>
<g id="chart-c">
<path d="M229.7 257.6V431.3M273.53 257.6V431.3M317.37 257.6V431.3M361.2 257.6V431.3M405.03 257.6V431.3M448.87 257.6V431.3M492.7 257.6V431.3M229.7 257.6H492.7M229.7 281.7H492.7M229.7 306H492.7M229.7 330.2H492.7M229.7 354.5H492.7M229.7 378.6H492.7M229.7 402.7H492.7M229.7 426.9H492.7" stroke="#c9c9c9" stroke-width="0.8" fill="none"/>
<clipPath id="clip-c"><rect x="229.7" y="257.6" width="263" height="173.7"/></clipPath>
<g clip-path="url(#clip-c)">
<path d="M229.7 358.8L234.08 359.29L238.47 359.8L242.85 360.32L247.23 360.85L251.62 361.4L256 361.96L260.38 362.53L264.77 363.11L269.15 363.7L273.53 364.3L277.92 364.91L282.3 365.53L286.68 366.17L291.07 366.82L295.45 367.5L299.83 368.2L304.22 368.93L308.6 369.68L312.98 370.43L317.37 371.2L321.75 371.97L326.13 372.75L330.52 373.55L334.9 374.36L339.28 375.2L343.67 376.07L348.05 376.95L352.43 377.86L356.82 378.78L361.2 379.7L365.58 380.62L369.97 381.54L374.35 382.44L378.73 383.33L383.12 384.2L387.5 385.04L391.88 385.88L396.27 386.72L400.65 387.59L405.03 388.5L409.42 389.47L413.8 390.47L418.18 391.49L422.57 392.51L426.95 393.5L431.33 394.45L435.72 395.38L440.1 396.31L444.48 397.27L448.87 398.3L453.25 399.4L457.63 400.57L462.02 401.78L466.4 402.99L470.78 404.2L475.17 405.37L479.55 406.48L483.93 407.51L488.32 408.42L492.7 409.2" stroke="#440154" stroke-width="2.2" fill="none" stroke-linejoin="round" stroke-linecap="butt"/>
<circle cx="229.7" cy="358.8" r="2" fill="#440154" stroke="#440154" stroke-width="1.0"/>
<circle cx="251.62" cy="361.4" r="2" fill="#440154" stroke="#440154" stroke-width="1.0"/>
<circle cx="273.53" cy="364.3" r="2" fill="#440154" stroke="#440154" stroke-width="1.0"/>
<circle cx="295.45" cy="367.5" r="2" fill="#440154" stroke="#440154" stroke-width="1.0"/>
<circle cx="317.37" cy="371.2" r="2" fill="#440154" stroke="#440154" stroke-width="1.0"/>
<circle cx="339.28" cy="375.2" r="2" fill="#440154" stroke="#440154" stroke-width="1.0"/>
<circle cx="361.2" cy="379.7" r="2" fill="#440154" stroke="#440154" stroke-width="1.0"/>
<circle cx="383.12" cy="384.2" r="2" fill="#440154" stroke="#440154" stroke-width="1.0"/>
<circle cx="405.03" cy="388.5" r="2" fill="#440154" stroke="#440154" stroke-width="1.0"/>
<circle cx="426.95" cy="393.5" r="2" fill="#440154" stroke="#440154" stroke-width="1.0"/>
<circle cx="448.87" cy="398.3" r="2" fill="#440154" stroke="#440154" stroke-width="1.0"/>
<circle cx="470.78" cy="404.2" r="2" fill="#440154" stroke="#440154" stroke-width="1.0"/>
<circle cx="492.7" cy="409.2" r="2" fill="#440154" stroke="#440154" stroke-width="1.0"/>
<path d="M229.7 360.1L234.08 360.76L238.47 361.4L242.85 362.04L247.23 362.67L251.62 363.3L256 363.93L260.38 364.58L264.77 365.23L269.15 365.91L273.53 366.6L277.92 367.32L282.3 368.06L286.68 368.82L291.07 369.6L295.45 370.4L299.83 371.21L304.22 372.04L308.6 372.88L312.98 373.73L317.37 374.6L321.75 375.48L326.13 376.38L330.52 377.3L334.9 378.24L339.28 379.2L343.67 380.19L348.05 381.2L352.43 382.21L356.82 383.21L361.2 384.2L365.58 385.16L369.97 386.1L374.35 387.01L378.73 387.91L383.12 388.8L387.5 389.68L391.88 390.55L396.27 391.43L400.65 392.31L405.03 393.2L409.42 394.11L413.8 395.03L418.18 395.95L422.57 396.88L426.95 397.8L431.33 398.72L435.72 399.63L440.1 400.56L444.48 401.51L448.87 402.5L453.25 403.53L457.63 404.58L462.02 405.66L466.4 406.73L470.78 407.8L475.17 408.84L479.55 409.85L483.93 410.8L488.32 411.69L492.7 412.5" stroke="#3b528b" stroke-width="2.2" fill="none" stroke-linejoin="round" stroke-linecap="butt"/>
<rect x="227.85" y="358.25" width="3.7" height="3.7" fill="#3b528b" stroke="#3b528b" stroke-width="1.0" stroke-linejoin="miter"/>
<rect x="249.77" y="361.45" width="3.7" height="3.7" fill="#3b528b" stroke="#3b528b" stroke-width="1.0" stroke-linejoin="miter"/>
<rect x="271.68" y="364.75" width="3.7" height="3.7" fill="#3b528b" stroke="#3b528b" stroke-width="1.0" stroke-linejoin="miter"/>
<rect x="293.6" y="368.55" width="3.7" height="3.7" fill="#3b528b" stroke="#3b528b" stroke-width="1.0" stroke-linejoin="miter"/>
<rect x="315.52" y="372.75" width="3.7" height="3.7" fill="#3b528b" stroke="#3b528b" stroke-width="1.0" stroke-linejoin="miter"/>
<rect x="337.43" y="377.35" width="3.7" height="3.7" fill="#3b528b" stroke="#3b528b" stroke-width="1.0" stroke-linejoin="miter"/>
<rect x="359.35" y="382.35" width="3.7" height="3.7" fill="#3b528b" stroke="#3b528b" stroke-width="1.0" stroke-linejoin="miter"/>
<rect x="381.27" y="386.95" width="3.7" height="3.7" fill="#3b528b" stroke="#3b528b" stroke-width="1.0" stroke-linejoin="miter"/>
<rect x="403.18" y="391.35" width="3.7" height="3.7" fill="#3b528b" stroke="#3b528b" stroke-width="1.0" stroke-linejoin="miter"/>
<rect x="425.1" y="395.95" width="3.7" height="3.7" fill="#3b528b" stroke="#3b528b" stroke-width="1.0" stroke-linejoin="miter"/>
<rect x="447.02" y="400.65" width="3.7" height="3.7" fill="#3b528b" stroke="#3b528b" stroke-width="1.0" stroke-linejoin="miter"/>
<rect x="468.93" y="405.95" width="3.7" height="3.7" fill="#3b528b" stroke="#3b528b" stroke-width="1.0" stroke-linejoin="miter"/>
<rect x="490.85" y="410.65" width="3.7" height="3.7" fill="#3b528b" stroke="#3b528b" stroke-width="1.0" stroke-linejoin="miter"/>
<path d="M229.7 355.9L234.08 356.41L238.47 356.92L242.85 357.44L247.23 357.97L251.62 358.5L256 359.04L260.38 359.59L264.77 360.15L269.15 360.72L273.53 361.3L277.92 361.89L282.3 362.49L286.68 363.09L291.07 363.69L295.45 364.3L299.83 364.91L304.22 365.52L308.6 366.15L312.98 366.81L317.37 367.5L321.75 368.24L326.13 369.01L330.52 369.82L334.9 370.65L339.28 371.5L343.67 372.36L348.05 373.22L352.43 374.09L356.82 374.95L361.2 375.8L365.58 376.64L369.97 377.47L374.35 378.3L378.73 379.14L383.12 380L387.5 380.88L391.88 381.77L396.27 382.67L400.65 383.59L405.03 384.5L409.42 385.41L413.8 386.33L418.18 387.26L422.57 388.22L426.95 389.2L431.33 390.22L435.72 391.28L440.1 392.38L444.48 393.52L448.87 394.7L453.25 395.92L457.63 397.15L462.02 398.39L466.4 399.61L470.78 400.8L475.17 402.3L479.55 401.8L483.93 402.9L488.32 404.05L492.7 405.5" stroke="#21918c" stroke-width="2.2" fill="none" stroke-linejoin="round" stroke-linecap="butt"/>
<path d="M229.7 354.05L231.55 357.75L227.85 357.75Z" fill="#21918c" stroke="#21918c" stroke-width="1.0"/>
<path d="M251.62 356.65L253.47 360.35L249.77 360.35Z" fill="#21918c" stroke="#21918c" stroke-width="1.0"/>
<path d="M273.53 359.45L275.38 363.15L271.68 363.15Z" fill="#21918c" stroke="#21918c" stroke-width="1.0"/>
<path d="M295.45 362.45L297.3 366.15L293.6 366.15Z" fill="#21918c" stroke="#21918c" stroke-width="1.0"/>
<path d="M317.37 365.65L319.22 369.35L315.52 369.35Z" fill="#21918c" stroke="#21918c" stroke-width="1.0"/>
<path d="M339.28 369.65L341.13 373.35L337.43 373.35Z" fill="#21918c" stroke="#21918c" stroke-width="1.0"/>
<path d="M361.2 373.95L363.05 377.65L359.35 377.65Z" fill="#21918c" stroke="#21918c" stroke-width="1.0"/>
<path d="M383.12 378.15L384.97 381.85L381.27 381.85Z" fill="#21918c" stroke="#21918c" stroke-width="1.0"/>
<path d="M405.03 382.65L406.88 386.35L403.18 386.35Z" fill="#21918c" stroke="#21918c" stroke-width="1.0"/>
<path d="M426.95 387.35L428.8 391.05L425.1 391.05Z" fill="#21918c" stroke="#21918c" stroke-width="1.0"/>
<path d="M448.87 392.85L450.72 396.55L447.02 396.55Z" fill="#21918c" stroke="#21918c" stroke-width="1.0"/>
<path d="M470.78 398.95L472.63 402.65L468.93 402.65Z" fill="#21918c" stroke="#21918c" stroke-width="1.0"/>
<path d="M492.7 403.65L494.55 407.35L490.85 407.35Z" fill="#21918c" stroke="#21918c" stroke-width="1.0"/>
<path d="M229.7 343.7L234.08 343.25L238.47 342.82L242.85 342.42L247.23 342.05L251.62 341.7L256 341.38L260.38 341.09L264.77 340.83L269.15 340.6L273.53 340.4L277.92 340.23L282.3 340.08L286.68 339.96L291.07 339.87L295.45 339.8L299.83 339.75L304.22 339.73L308.6 339.75L312.98 339.8L317.37 339.9L321.75 340.05L326.13 340.24L330.52 340.47L334.9 340.73L339.28 341L343.67 341.29L348.05 341.6L352.43 341.94L356.82 342.34L361.2 342.8L365.58 343.33L369.97 343.93L374.35 344.58L378.73 345.27L383.12 346L387.5 346.75L391.88 347.53L396.27 348.36L400.65 349.24L405.03 350.2L409.42 351.24L413.8 352.36L418.18 353.56L422.57 354.84L426.95 356.2L431.33 357.64L435.72 359.16L440.1 360.75L444.48 362.44L448.87 364.2L453.25 366.06L457.63 368.05L462.02 370.22L466.4 372.62L470.78 375.3L475.17 378.3L479.55 381.67L483.93 385.47L488.32 389.73L492.7 394.5" stroke="#5ec962" stroke-width="2.2" fill="none" stroke-linejoin="round" stroke-linecap="butt"/>
<path d="M229.7 341.08L232.32 343.7L229.7 346.32L227.08 343.7Z" fill="#5ec962" stroke="#5ec962" stroke-width="1.0"/>
<path d="M251.62 339.08L254.23 341.7L251.62 344.32L249 341.7Z" fill="#5ec962" stroke="#5ec962" stroke-width="1.0"/>
<path d="M273.53 337.78L276.15 340.4L273.53 343.02L270.92 340.4Z" fill="#5ec962" stroke="#5ec962" stroke-width="1.0"/>
<path d="M295.45 337.18L298.07 339.8L295.45 342.42L292.83 339.8Z" fill="#5ec962" stroke="#5ec962" stroke-width="1.0"/>
<path d="M317.37 337.28L319.98 339.9L317.37 342.52L314.75 339.9Z" fill="#5ec962" stroke="#5ec962" stroke-width="1.0"/>
<path d="M339.28 338.38L341.9 341L339.28 343.62L336.67 341Z" fill="#5ec962" stroke="#5ec962" stroke-width="1.0"/>
<path d="M361.2 340.18L363.82 342.8L361.2 345.42L358.58 342.8Z" fill="#5ec962" stroke="#5ec962" stroke-width="1.0"/>
<path d="M383.12 343.38L385.73 346L383.12 348.62L380.5 346Z" fill="#5ec962" stroke="#5ec962" stroke-width="1.0"/>
<path d="M405.03 347.58L407.65 350.2L405.03 352.82L402.42 350.2Z" fill="#5ec962" stroke="#5ec962" stroke-width="1.0"/>
<path d="M426.95 353.58L429.57 356.2L426.95 358.82L424.33 356.2Z" fill="#5ec962" stroke="#5ec962" stroke-width="1.0"/>
<path d="M448.87 361.58L451.48 364.2L448.87 366.82L446.25 364.2Z" fill="#5ec962" stroke="#5ec962" stroke-width="1.0"/>
<path d="M470.78 372.68L473.4 375.3L470.78 377.92L468.17 375.3Z" fill="#5ec962" stroke="#5ec962" stroke-width="1.0"/>
<path d="M492.7 391.88L495.32 394.5L492.7 397.12L490.08 394.5Z" fill="#5ec962" stroke="#5ec962" stroke-width="1.0"/>
<path d="M229.7 316.5L234.08 314.82L238.47 313.19L242.85 311.61L247.23 310.08L251.62 308.6L256 307.18L260.38 305.82L264.77 304.51L269.15 303.27L273.53 302.1L277.92 300.99L282.3 299.95L286.68 298.95L291.07 298.01L295.45 297.1L299.83 296.23L304.22 295.41L308.6 294.66L312.98 293.98L317.37 293.4L321.75 292.93L326.13 292.56L330.52 292.28L334.9 292.1L339.28 292L343.67 291.98L348.05 292.03L352.43 292.17L356.82 292.39L361.2 292.7L365.58 293.11L369.97 293.61L374.35 294.22L378.73 294.95L383.12 295.8L387.5 296.78L391.88 297.9L396.27 299.17L400.65 300.6L405.03 302.2L409.42 303.99L413.8 305.97L418.18 308.17L422.57 310.61L426.95 313.3L431.33 316.26L435.72 319.48L440.1 322.98L444.48 326.75L448.87 330.8L453.25 335.12L457.63 339.71L462.02 344.56L466.4 349.66L470.78 355L475.17 360.57L479.55 366.37L483.93 372.38L488.32 378.59L492.7 385" stroke="#fde725" stroke-width="2.2" fill="none" stroke-linejoin="round" stroke-linecap="butt"/>
<path d="M229.7 318.35L231.55 314.65L227.85 314.65Z" fill="#fde725" stroke="#fde725" stroke-width="1.0"/>
<path d="M251.62 310.45L253.47 306.75L249.77 306.75Z" fill="#fde725" stroke="#fde725" stroke-width="1.0"/>
<path d="M273.53 303.95L275.38 300.25L271.68 300.25Z" fill="#fde725" stroke="#fde725" stroke-width="1.0"/>
<path d="M295.45 298.95L297.3 295.25L293.6 295.25Z" fill="#fde725" stroke="#fde725" stroke-width="1.0"/>
<path d="M317.37 295.25L319.22 291.55L315.52 291.55Z" fill="#fde725" stroke="#fde725" stroke-width="1.0"/>
<path d="M339.28 293.85L341.13 290.15L337.43 290.15Z" fill="#fde725" stroke="#fde725" stroke-width="1.0"/>
<path d="M361.2 294.55L363.05 290.85L359.35 290.85Z" fill="#fde725" stroke="#fde725" stroke-width="1.0"/>
<path d="M383.12 297.65L384.97 293.95L381.27 293.95Z" fill="#fde725" stroke="#fde725" stroke-width="1.0"/>
<path d="M405.03 304.05L406.88 300.35L403.18 300.35Z" fill="#fde725" stroke="#fde725" stroke-width="1.0"/>
<path d="M426.95 315.15L428.8 311.45L425.1 311.45Z" fill="#fde725" stroke="#fde725" stroke-width="1.0"/>
<path d="M448.87 332.65L450.72 328.95L447.02 328.95Z" fill="#fde725" stroke="#fde725" stroke-width="1.0"/>
<path d="M470.78 356.85L472.63 353.15L468.93 353.15Z" fill="#fde725" stroke="#fde725" stroke-width="1.0"/>
<path d="M492.7 386.85L494.55 383.15L490.85 383.15Z" fill="#fde725" stroke="#fde725" stroke-width="1.0"/>
<path d="M230.7 354.5H494.7" stroke="#000" stroke-width="2.6" stroke-linecap="round" stroke-dasharray="0.01 5.225" fill="none"/>
</g>
<path d="M229.7 431.3v1.9M273.53 431.3v1.9M317.37 431.3v1.9M361.2 431.3v1.9M405.03 431.3v1.9M448.87 431.3v1.9M492.7 431.3v1.9M229.7 257.6h-1.9M229.7 281.7h-1.9M229.7 306h-1.9M229.7 330.2h-1.9M229.7 354.5h-1.9M229.7 378.6h-1.9M229.7 402.7h-1.9M229.7 426.9h-1.9" stroke="#000" stroke-width="0.6" fill="none"/>
<rect x="229.7" y="257.6" width="263" height="173.7" fill="none" stroke="#000" stroke-width="0.6"/>
<text x="225.9" y="261.1" text-anchor="end" font-size="9.5" textLength="25.2" lengthAdjust="spacingAndGlyphs">1.0100</text>
<text x="225.9" y="285.2" text-anchor="end" font-size="9.5" textLength="25.2" lengthAdjust="spacingAndGlyphs">1.0075</text>
<text x="225.9" y="309.5" text-anchor="end" font-size="9.5" textLength="25.2" lengthAdjust="spacingAndGlyphs">1.0050</text>
<text x="225.9" y="333.7" text-anchor="end" font-size="9.5" textLength="25.2" lengthAdjust="spacingAndGlyphs">1.0025</text>
<text x="225.9" y="358" text-anchor="end" font-size="9.5" textLength="25.2" lengthAdjust="spacingAndGlyphs">1.0000</text>
<text x="225.9" y="382.1" text-anchor="end" font-size="9.5" textLength="25.2" lengthAdjust="spacingAndGlyphs">0.9975</text>
<text x="225.9" y="406.2" text-anchor="end" font-size="9.5" textLength="25.2" lengthAdjust="spacingAndGlyphs">0.9950</text>
<text x="225.9" y="430.4" text-anchor="end" font-size="9.5" textLength="25.2" lengthAdjust="spacingAndGlyphs">0.9925</text>
<text x="206.9" y="442.2" font-size="9.6" textLength="23.7" lengthAdjust="spacingAndGlyphs">Const.</text>
<text x="236.6" y="442.2" font-size="9.6" textLength="15.5" lengthAdjust="spacingAndGlyphs">Em.</text>
<text x="273.53" y="442.2" text-anchor="middle" font-size="9.4">10</text>
<text x="317.37" y="442.2" text-anchor="middle" font-size="9.4">20</text>
<text x="361.2" y="442.2" text-anchor="middle" font-size="9.4">30</text>
<text x="405.03" y="442.2" text-anchor="middle" font-size="9.4">40</text>
<text x="448.87" y="442.2" text-anchor="middle" font-size="9.4">50</text>
<text x="492.7" y="442.2" text-anchor="middle" font-size="9.4">60</text>
<text x="361.2" y="453.6" text-anchor="middle" font-size="11.1" textLength="105.8" lengthAdjust="spacingAndGlyphs">Policy Stringency (in %)</text>
<text transform="translate(196.4 344.45) rotate(-90)" text-anchor="middle" font-size="11.8" textLength="63.3" lengthAdjust="spacingAndGlyphs">Welfare (in %)</text>
<rect x="401.9" y="262.5" width="85.9" height="67.8" rx="1.8" ry="1.8" fill="#fff" fill-opacity="0.8" stroke="#ccc" stroke-opacity="0.8" stroke-width="0.8"/>
<path d="M404.4 269.5H425.4" stroke="#440154" stroke-width="2.2" fill="none"/>
<circle cx="414.9" cy="269.5" r="2" fill="#440154" stroke="#440154" stroke-width="1.0"/>
<text x="431.7" y="273.1" font-size="9.1" textLength="39.7" lengthAdjust="spacingAndGlyphs">Avtive low</text>
<path d="M404.4 282.5H425.4" stroke="#3b528b" stroke-width="2.2" fill="none"/>
<rect x="413.05" y="280.65" width="3.7" height="3.7" fill="#3b528b" stroke="#3b528b" stroke-width="1.0" stroke-linejoin="miter"/>
<text x="431.7" y="286.1" font-size="9.1" textLength="52.4" lengthAdjust="spacingAndGlyphs">Avtive middle</text>
<path d="M404.4 295.5H425.4" stroke="#21918c" stroke-width="2.2" fill="none"/>
<path d="M414.9 293.65L416.75 297.35L413.05 297.35Z" fill="#21918c" stroke="#21918c" stroke-width="1.0"/>
<text x="431.7" y="299.1" font-size="9.1" textLength="43.3" lengthAdjust="spacingAndGlyphs">Avtive high</text>
<path d="M404.4 308.5H425.4" stroke="#5ec962" stroke-width="2.2" fill="none"/>
<path d="M414.9 305.88L417.52 308.5L414.9 311.12L412.28 308.5Z" fill="#5ec962" stroke="#5ec962" stroke-width="1.0"/>
<text x="431.7" y="312.1" font-size="9.1" textLength="42.9" lengthAdjust="spacingAndGlyphs">Retired low</text>
<path d="M404.4 321.5H425.4" stroke="#fde725" stroke-width="2.2" fill="none"/>
<path d="M414.9 323.35L416.75 319.65L413.05 319.65Z" fill="#fde725" stroke="#fde725" stroke-width="1.0"/>
<text x="431.7" y="325.1" font-size="9.1" textLength="46.5" lengthAdjust="spacingAndGlyphs">Retired high</text>
<text x="267" y="480.9" font-size="16" fill="#111" textLength="17.3" lengthAdjust="spacingAndGlyphs">(c)</text>
<text x="290.9" y="480.9" font-size="16" fill="#111" textLength="25.1" lengthAdjust="spacingAndGlyphs">End</text>
<text x="323.6" y="480.9" font-size="16" fill="#111" textLength="24.5" lengthAdjust="spacingAndGlyphs">Sub</text>
<text x="355.6" y="480.9" font-size="16" fill="#111" textLength="63.2" lengthAdjust="spacingAndGlyphs">Recycling</text>
<rect x="317.6" y="480.2" width="4.8" height="0.75" fill="#111"/>
<rect x="349" y="480.2" width="4.9" height="0.75" fill="#111"/>
</g>
</svg>
</body>
</html>
